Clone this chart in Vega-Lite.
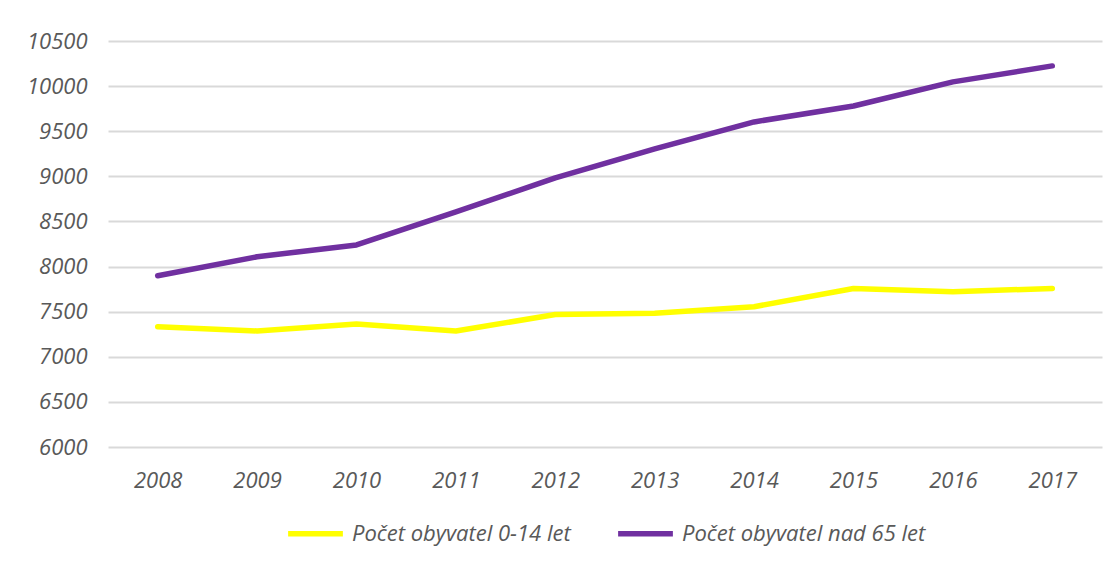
{
  "$schema": "https://vega.github.io/schema/vega-lite/v6.json",
  "width": 1117,
  "height": 563,
  "autosize": {"type": "fit", "contains": "padding"},
  "padding": {"left": 26, "right": 15, "top": 30, "bottom": 18},
  "background": "white",
  "data": {
    "values": [
      {"rok": "2008", "serie": "Počet obyvatel 0-14 let", "hodnota": 7334},
      {"rok": "2009", "serie": "Počet obyvatel 0-14 let", "hodnota": 7286},
      {"rok": "2010", "serie": "Počet obyvatel 0-14 let", "hodnota": 7364},
      {"rok": "2011", "serie": "Počet obyvatel 0-14 let", "hodnota": 7286},
      {"rok": "2012", "serie": "Počet obyvatel 0-14 let", "hodnota": 7468},
      {"rok": "2013", "serie": "Počet obyvatel 0-14 let", "hodnota": 7482},
      {"rok": "2014", "serie": "Počet obyvatel 0-14 let", "hodnota": 7555},
      {"rok": "2015", "serie": "Počet obyvatel 0-14 let", "hodnota": 7757},
      {"rok": "2016", "serie": "Počet obyvatel 0-14 let", "hodnota": 7722},
      {"rok": "2017", "serie": "Počet obyvatel 0-14 let", "hodnota": 7757},
      {"rok": "2008", "serie": "Počet obyvatel nad 65 let", "hodnota": 7898},
      {"rok": "2009", "serie": "Počet obyvatel nad 65 let", "hodnota": 8108},
      {"rok": "2010", "serie": "Počet obyvatel nad 65 let", "hodnota": 8240},
      {"rok": "2011", "serie": "Počet obyvatel nad 65 let", "hodnota": 8605},
      {"rok": "2012", "serie": "Počet obyvatel nad 65 let", "hodnota": 8982},
      {"rok": "2013", "serie": "Počet obyvatel nad 65 let", "hodnota": 9304},
      {"rok": "2014", "serie": "Počet obyvatel nad 65 let", "hodnota": 9603},
      {"rok": "2015", "serie": "Počet obyvatel nad 65 let", "hodnota": 9780},
      {"rok": "2016", "serie": "Počet obyvatel nad 65 let", "hodnota": 10047},
      {"rok": "2017", "serie": "Počet obyvatel nad 65 let", "hodnota": 10224}
    ]
  },
  "mark": {"type": "line", "strokeWidth": 5.5, "strokeCap": "round", "strokeJoin": "round"},
  "encoding": {
    "x": {
      "field": "rok",
      "type": "ordinal",
      "scale": {"type": "point", "padding": 0.5},
      "axis": {
        "title": null,
        "labelAngle": 0,
        "ticks": false,
        "domain": false,
        "grid": false,
        "labelPadding": 23,
        "labelFont": "Open Sans",
        "labelFontStyle": "italic",
        "labelFontSize": 22,
        "labelColor": "#595959"
      }
    },
    "y": {
      "field": "hodnota",
      "type": "quantitative",
      "scale": {"domain": [6000, 10500], "nice": false, "zero": false},
      "axis": {
        "title": null,
        "values": [6000, 6500, 7000, 7500, 8000, 8500, 9000, 9500, 10000, 10500],
        "format": "d",
        "ticks": false,
        "domain": false,
        "grid": true,
        "gridColor": "#d9d9d9",
        "gridWidth": 2,
        "labelPadding": 21,
        "labelFont": "Open Sans",
        "labelFontStyle": "italic",
        "labelFontSize": 22,
        "labelColor": "#595959"
      }
    },
    "color": {
      "field": "serie",
      "type": "nominal",
      "scale": {
        "domain": ["Počet obyvatel 0-14 let", "Počet obyvatel nad 65 let"],
        "range": ["#ffff00", "#7030a0"]
      },
      "legend": {
        "title": null,
        "orient": "bottom",
        "direction": "horizontal",
        "symbolType": "stroke",
        "symbolStrokeWidth": 5.5,
        "symbolSize": 3000,
        "labelFont": "Open Sans",
        "labelFontStyle": "italic",
        "labelFontSize": 22,
        "labelColor": "#595959",
        "labelLimit": 400,
        "labelOffset": 6,
        "columnPadding": 36,
        "offset": 12
      }
    }
  },
  "config": {
    "view": {"stroke": null},
    "legend": {"layout": {"bottom": {"anchor": "middle"}}}
  }
}
